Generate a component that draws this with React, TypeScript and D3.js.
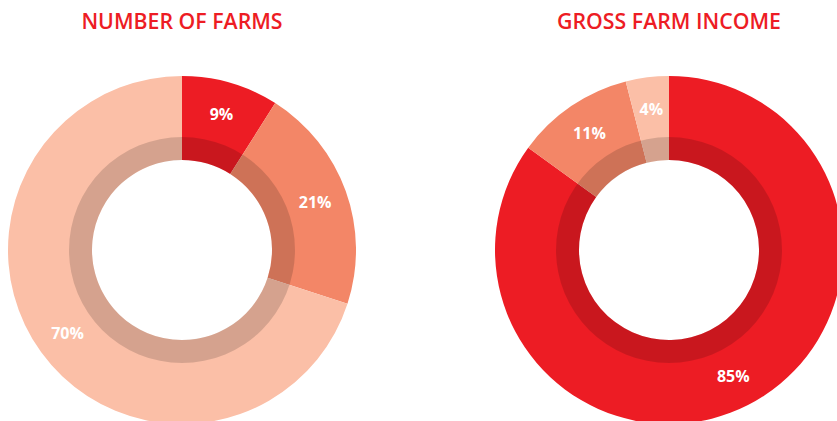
import React from "react";
import * as d3 from "d3";

const categories = ["A", "B", "C"];
const farmsValues = [9, 21, 70];
const incomeValues = [85, 11, 4];
const farmsColors = ["#ED1C24", "#F38667", "#FBBFA7"];
const incomeColors = ["#ED1C24", "#F38667", "#FBBFA7"];
const titles = ["NUMBER OF FARMS", "GROSS FARM INCOME"];

const W = 837;
const H = 421;
const R_OUT = 174;
const R_BAND = 113;
const R_IN = 90;

function Donut({ cx, cy, values, colors, title }: { cx: number; cy: number; values: number[]; colors: string[]; title: string }) {
  const pie = d3.pie<number>().sort(null).value((d) => d)(values);
  const arcOuter = d3.arc<d3.PieArcDatum<number>>().innerRadius(R_IN).outerRadius(R_OUT);
  const arcBand = d3.arc<d3.PieArcDatum<number>>().innerRadius(R_IN).outerRadius(R_BAND);
  const arcLabel = d3.arc<d3.PieArcDatum<number>>().innerRadius(R_BAND - 2).outerRadius(R_OUT - 2);
  return (
    <g>
      <text x={cx} y={29} textAnchor="middle" fill="#ED1C24" fontFamily="'Open Sans', sans-serif" fontWeight={600} fontSize={21.3}>
        {title}
      </text>
      <g transform={`translate(${cx},${cy})`}>
        {pie.map((p, i) => (
          <path key={"s" + i} d={arcOuter(p) || ""} fill={colors[i]} />
        ))}
        <path
          d={arcBand({ startAngle: 0, endAngle: 2 * Math.PI, padAngle: 0, value: 1, data: 1, index: 0 } as any) || ""}
          fill="#000"
          fillOpacity={0.15}
        />
        {pie.map((p, i) => {
          const [x, y] = arcLabel.centroid(p);
          return (
            <text
              key={"l" + i}
              x={x}
              y={y}
              dy="0.35em"
              textAnchor="middle"
              fill="#fff"
              fontFamily="'Open Sans', sans-serif"
              fontWeight={700}
              fontSize={16}
            >
              {values[i]}%
            </text>
          );
        })}
      </g>
    </g>
  );
}

export default function App() {
  return (
    <svg width={W} height={H} style={{ position: "absolute", left: 0, top: 0, background: "#fff" }}>
      <Donut cx={182} cy={250} values={farmsValues} colors={farmsColors} title={titles[0]} />
      <Donut cx={669} cy={250} values={incomeValues} colors={incomeColors} title={titles[1]} />
    </svg>
  );
}
